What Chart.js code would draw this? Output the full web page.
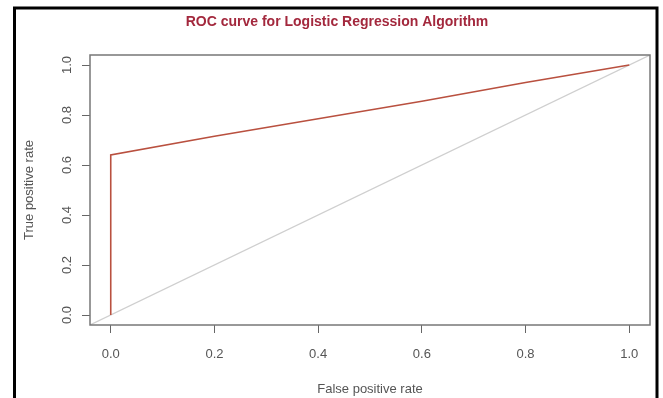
<!DOCTYPE html>
<html>
<head>
<meta charset="utf-8">
<script src="https://cdn.jsdelivr.net/npm/chart.js@4.4.0/dist/chart.umd.min.js"></script>
<style>
  html, body { margin: 0; padding: 0; background: #fff; }
  #wrap { width: 663px; height: 398px; }
</style>
</head>
<body>
<div id="wrap"><canvas id="roc" width="663" height="398"></canvas></div>
<script>
// ROC curve points
const fpr = [0, 0, 0.2, 0.4, 0.6, 0.8, 1];
const tpr = [0, 0.64, 0.715, 0.785, 0.855, 0.93, 1];
// chance line (abline a=0, b=1) across the whole plot region
const chanceX = [-0.04, 1.04];
const chanceY = [-0.04, 1.04];
const tickValues = [0, 0.2, 0.4, 0.6, 0.8, 1];
const tickLabels = ['0.0', '0.2', '0.4', '0.6', '0.8', '1.0'];
const titleText = 'ROC curve for Logistic Regression Algorithm';
const xTitle = 'False positive rate';
const yTitle = 'True positive rate';

const FONT = "'Liberation Sans', Arial, sans-serif";
const TEXT_COLOR = '#555';

const framePlugin = {
    id: 'rframe',
    beforeDraw(chart) {
        const ctx = chart.ctx;
        ctx.save();
        ctx.fillStyle = '#fff';
        ctx.fillRect(0, 0, chart.width, chart.height);
        // outer black frame of the figure
        ctx.strokeStyle = '#000';
        ctx.lineWidth = 3;
        ctx.beginPath();
        ctx.moveTo(14.5, 400);
        ctx.lineTo(14.5, 8);
        ctx.lineTo(657, 8);
        ctx.lineTo(657, 400);
        ctx.stroke();
        ctx.restore();
    },
    afterDraw(chart) {
        const ctx = chart.ctx;
        const a = chart.chartArea;
        const ys = chart.scales.y;
        ctx.save();
        // plot box
        ctx.strokeStyle = '#777';
        ctx.lineWidth = 1.5;
        ctx.strokeRect(a.left, a.top, a.right - a.left, a.bottom - a.top);

        // title
        ctx.fillStyle = '#a3283d';
        ctx.font = 'bold 14px ' + FONT;
        ctx.textAlign = 'center';
        ctx.textBaseline = 'middle';
        ctx.fillText(titleText, 337, 22);

        // y tick labels, rotated like R's default las=0
        ctx.fillStyle = TEXT_COLOR;
        ctx.font = '13px ' + FONT;
        tickValues.forEach((v, i) => {
            ctx.save();
            ctx.translate(67, ys.getPixelForValue(v));
            ctx.rotate(-Math.PI / 2);
            ctx.fillText(tickLabels[i], 0, 0);
            ctx.restore();
        });

        // axis titles
        ctx.font = '13px ' + FONT;
        ctx.fillText(xTitle, (a.left + a.right) / 2, 389);
        ctx.save();
        ctx.translate(29, (a.top + a.bottom) / 2);
        ctx.rotate(-Math.PI / 2);
        ctx.fillText(yTitle, 0, 0);
        ctx.restore();
        ctx.restore();
    }
};

new Chart(document.getElementById('roc'), {
    type: 'scatter',
    data: {
        datasets: [
            {
                label: 'ROC',
                data: fpr.map((x, i) => ({ x: x, y: tpr[i] })),
                showLine: true,
                borderColor: '#b9503f',
                borderWidth: 1.6,
                pointRadius: 0,
                tension: 0
            },
            {
                label: 'chance',
                data: chanceX.map((x, i) => ({ x: x, y: chanceY[i] })),
                showLine: true,
                borderColor: '#cfcfcf',
                borderWidth: 1.2,
                pointRadius: 0,
                tension: 0
            }
        ]
    },
    options: {
        responsive: false,
        devicePixelRatio: 1,
        animation: false,
        layout: { padding: { left: 30, right: 13, top: 55, bottom: 23 } },
        plugins: {
            legend: { display: false },
            title: { display: false },
            tooltip: { enabled: false }
        },
        scales: {
            x: {
                type: 'linear',
                min: -0.04,
                max: 1.04,
                afterBuildTicks: s => { s.ticks = tickValues.map(v => ({ value: v })); },
                afterFit: s => { s.height = 50; },
                border: { display: false },
                grid: { drawOnChartArea: false, drawTicks: true, tickLength: 8, color: '#666', lineWidth: 1 },
                ticks: {
                    padding: 14,
                    color: TEXT_COLOR,
                    font: { family: FONT, size: 13 },
                    callback: v => tickLabels[tickValues.indexOf(v)]
                }
            },
            y: {
                type: 'linear',
                min: -0.04,
                max: 1.04,
                afterBuildTicks: s => { s.ticks = tickValues.map(v => ({ value: v })); },
                afterFit: s => { s.width = 60; },
                border: { display: false },
                grid: { drawOnChartArea: false, drawTicks: true, tickLength: 8, color: '#666', lineWidth: 1 },
                ticks: { display: false }
            }
        }
    },
    plugins: [framePlugin]
});
</script>
</body>
</html>
